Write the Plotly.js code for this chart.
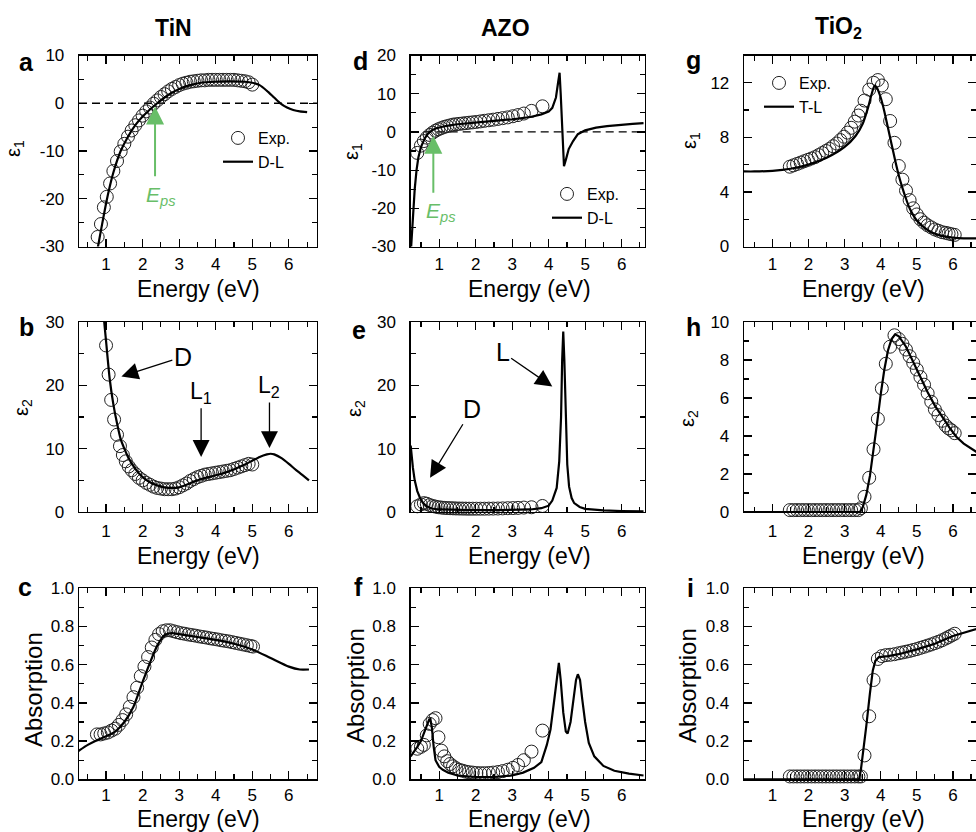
<!DOCTYPE html>
<html><head><meta charset="utf-8">
<script src="https://cdn.plot.ly/plotly-3.0.1.min.js"></script>
<style>html,body{margin:0;padding:0;background:#fff;}#chart{width:976px;height:832px;}</style>
</head><body><div id="chart"></div>
<script>
// ---------- TiN ----------
const tinE1ExpX = [0.77,0.86,0.94,1.02,1.11,1.2,1.3,1.4,1.5,1.6,1.7,1.8,1.9,2.0,2.1,2.2,2.3,2.4,2.5,2.6,2.7,2.8,2.9,3.0,3.1,3.2,3.3,3.4,3.5,3.6,3.7,3.8,3.9,4.0,4.1,4.2,4.3,4.4,4.5,4.6,4.7,4.8,4.9,5.0];
const tinE1ExpY = [-28,-25.3,-21.8,-19.6,-16.8,-14.2,-12.1,-10.1,-8.5,-7.0,-5.7,-4.6,-3.6,-2.6,-1.7,-0.9,-0.1,0.6,1.3,1.9,2.5,3.0,3.4,3.8,4.1,4.3,4.5,4.6,4.7,4.8,4.8,4.9,4.9,4.9,4.9,4.9,4.9,4.9,4.9,4.8,4.7,4.6,4.4,3.9];
const tinE1FitX = [0.74,0.78,0.9,1.0,1.1,1.2,1.4,1.6,1.8,2.0,2.2,2.4,2.6,2.8,3.0,3.3,3.6,4.0,4.4,4.8,5.0,5.2,5.4,5.57,5.75,5.95,6.12,6.3,6.5];
const tinE1FitY = [-32,-30,-25,-21,-17.5,-14.5,-10,-7,-4.6,-2.8,-1.3,0,1.2,2.2,3.0,3.8,4.3,4.5,4.6,4.5,4.3,3.8,2.6,1.4,0.1,-0.9,-1.4,-1.7,-1.85];

const tinE2ExpX = [1.0,1.07,1.14,1.22,1.3,1.38,1.46,1.54,1.62,1.7,1.8,1.9,2.0,2.1,2.2,2.3,2.4,2.5,2.6,2.7,2.8,2.9,3.0,3.1,3.2,3.3,3.4,3.5,3.6,3.7,3.8,3.9,4.0,4.1,4.2,4.3,4.4,4.5,4.6,4.7,4.8,4.9,5.0];
const tinE2ExpY = [26.3,21.7,17.7,14.6,12.2,10.4,9.0,8.0,7.2,6.6,6.0,5.4,5.0,4.6,4.3,4.0,3.8,3.7,3.6,3.6,3.6,3.7,3.9,4.2,4.5,4.9,5.2,5.5,5.7,5.9,6.0,6.1,6.2,6.3,6.4,6.5,6.6,6.8,7.0,7.2,7.4,7.6,7.5];
const tinE2FitX = [0.9,0.95,1.0,1.1,1.2,1.3,1.4,1.5,1.6,1.8,2.0,2.2,2.4,2.6,2.8,3.0,3.2,3.4,3.6,3.8,4.0,4.2,4.4,4.6,4.8,5.0,5.2,5.4,5.5,5.6,5.8,6.0,6.2,6.4,6.55];
const tinE2FitY = [34,30,27,21,17,14,11.5,10,8.7,6.8,5.5,4.7,4.2,3.9,3.8,3.9,4.3,4.8,5.2,5.5,5.8,6.1,6.5,7.0,7.5,8.1,8.7,9.1,9.2,9.1,8.5,7.6,6.6,5.7,5.0];

const tinAbsExpX = [0.75,0.85,0.95,1.05,1.15,1.25,1.35,1.45,1.55,1.65,1.75,1.85,1.95,2.05,2.15,2.25,2.35,2.45,2.55,2.65,2.75,2.85,2.95,3.05,3.15,3.25,3.35,3.45,3.55,3.65,3.75,3.85,3.95,4.05,4.15,4.25,4.35,4.45,4.55,4.65,4.75,4.85,4.95,5.02];
const tinAbsExpY = [0.235,0.235,0.24,0.245,0.255,0.265,0.285,0.31,0.34,0.38,0.43,0.48,0.54,0.59,0.64,0.69,0.73,0.76,0.775,0.78,0.78,0.775,0.77,0.765,0.762,0.758,0.755,0.752,0.748,0.745,0.742,0.738,0.735,0.732,0.728,0.725,0.722,0.718,0.714,0.71,0.706,0.702,0.698,0.695];
const tinAbsFitX = [0.22,0.5,0.75,1.0,1.25,1.5,1.75,2.0,2.2,2.4,2.6,2.8,3.0,3.5,4.0,4.5,5.0,5.5,6.0,6.3,6.55];
const tinAbsFitY = [0.145,0.18,0.205,0.225,0.25,0.3,0.38,0.51,0.61,0.7,0.755,0.765,0.76,0.745,0.73,0.71,0.68,0.635,0.59,0.575,0.575];

// ---------- AZO ----------
const azoExpX = [0.4,0.5,0.58,0.66,0.74,0.82,0.9,0.98,1.06,1.14,1.22,1.3,1.38,1.46,1.55,1.64,1.73,1.82,1.92,2.02,2.13,2.24,2.36,2.48,2.61,2.74,2.88,3.02,3.16,3.32,3.53,3.83];
const azoE1ExpY = [-5.5,-3.6,-2.4,-1.5,-0.8,-0.2,0.3,0.7,1.0,1.3,1.5,1.7,1.9,2.0,2.1,2.2,2.3,2.4,2.5,2.6,2.75,2.9,3.05,3.2,3.4,3.6,3.8,4.1,4.4,4.8,5.5,6.7];
const azoE2ExpY = [0.9,1.2,1.4,1.3,1.1,0.95,0.85,0.75,0.7,0.65,0.62,0.6,0.58,0.56,0.55,0.54,0.53,0.52,0.52,0.52,0.52,0.52,0.53,0.54,0.55,0.57,0.6,0.62,0.65,0.7,0.75,0.95];
const azoAbsExpY = [0.16,0.17,0.18,0.23,0.29,0.31,0.32,0.22,0.15,0.12,0.095,0.08,0.068,0.058,0.05,0.045,0.04,0.037,0.035,0.033,0.032,0.032,0.033,0.035,0.038,0.043,0.05,0.06,0.075,0.1,0.145,0.255];

const azoE1FitX = [0.22,0.28,0.33,0.38,0.43,0.5,0.56,0.61,0.7,0.8,0.9,1.0,1.2,1.5,2.0,2.5,3.0,3.5,3.8,4.0,4.1,4.2,4.26,4.3,4.33,4.37,4.42,4.48,4.55,4.67,4.8,5.0,5.3,5.6,6.0,6.3,6.6];
const azoE1FitY = [-32,-21,-15,-10,-6.7,-4,-2.6,-1.6,-0.4,0.4,0.9,1.2,1.6,2.0,2.5,2.9,3.3,3.9,4.6,5.3,6.3,9.0,13,15.5,10,0,-9,-7,-4.5,-2.4,-0.6,0.4,1.1,1.5,1.9,2.1,2.3];

const azoE2FitX = [0.22,0.25,0.28,0.33,0.4,0.47,0.55,0.65,0.8,1.0,1.5,2.0,2.5,3.0,3.5,3.8,4.0,4.1,4.22,4.29,4.34,4.37,4.4,4.43,4.47,4.51,4.56,4.63,4.7,4.85,5.0,5.5,6.0,6.6];
const azoE2FitY = [10.5,8.5,7.0,5.0,3.3,2.3,1.5,0.9,0.55,0.4,0.3,0.3,0.3,0.35,0.4,0.6,1.0,1.8,3.8,8,15,24,28.5,24,14,7.5,4.0,2.2,1.4,0.8,0.5,0.25,0.15,0.1];

const azoAbsFitX = [0.22,0.3,0.4,0.5,0.58,0.65,0.72,0.76,0.8,0.85,0.9,1.0,1.1,1.25,1.5,2.0,2.5,3.0,3.3,3.6,3.8,3.95,4.05,4.15,4.22,4.28,4.33,4.4,4.47,4.52,4.6,4.68,4.75,4.8,4.86,4.92,5.0,5.1,5.25,5.5,5.8,6.2,6.6];
const azoAbsFitY = [0.12,0.14,0.17,0.2,0.24,0.28,0.31,0.315,0.27,0.17,0.1,0.065,0.05,0.035,0.02,0.012,0.012,0.02,0.035,0.06,0.09,0.18,0.26,0.41,0.53,0.61,0.52,0.35,0.25,0.24,0.3,0.42,0.52,0.55,0.52,0.42,0.3,0.19,0.12,0.07,0.045,0.03,0.02];

// ---------- TiO2 ----------
const tioExpX = [1.48,1.58,1.68,1.78,1.88,1.98,2.08,2.18,2.28,2.38,2.48,2.58,2.68,2.78,2.88,2.98,3.08,3.18,3.28,3.38,3.45,3.55,3.68,3.8,3.92,4.03,4.14,4.26,4.38,4.5,4.6,4.7,4.8,4.9,5.0,5.1,5.2,5.3,5.4,5.5,5.6,5.7,5.8,5.88,5.96,6.05];
const tioE1ExpY = [5.85,5.95,6.05,6.15,6.25,6.35,6.45,6.55,6.7,6.85,7.0,7.15,7.35,7.55,7.8,8.05,8.35,8.7,9.15,9.6,9.95,10.7,11.5,12.0,12.2,11.8,10.8,9.2,7.6,5.9,4.9,4.1,3.4,2.8,2.35,2.0,1.75,1.55,1.4,1.25,1.15,1.05,1.0,0.95,0.9,0.85];
const tioE2ExpY = [0.1,0.1,0.1,0.1,0.1,0.1,0.1,0.1,0.1,0.1,0.1,0.1,0.1,0.1,0.1,0.1,0.1,0.1,0.1,0.1,0.2,0.8,1.8,3.3,4.9,6.5,7.8,8.7,9.3,9.1,8.85,8.55,8.2,7.85,7.5,7.1,6.7,6.25,5.8,5.4,5.1,4.8,4.55,4.4,4.3,4.15];
const tioAbsExpY = [0.015,0.015,0.015,0.015,0.015,0.015,0.015,0.015,0.015,0.015,0.015,0.015,0.015,0.015,0.015,0.015,0.015,0.015,0.015,0.015,0.015,0.125,0.33,0.52,0.63,0.645,0.65,0.652,0.655,0.66,0.664,0.668,0.672,0.677,0.682,0.688,0.694,0.7,0.706,0.713,0.72,0.728,0.737,0.745,0.753,0.762];

const tioE1FitX = [0.21,0.5,1.0,1.5,2.0,2.5,3.0,3.3,3.5,3.65,3.75,3.83,3.9,4.0,4.1,4.2,4.3,4.4,4.5,4.6,4.7,4.8,4.9,5.0,5.2,5.4,5.6,5.8,6.0,6.3,6.7];
const tioE1FitY = [5.5,5.5,5.55,5.7,6.0,6.5,7.3,8.1,9.0,10.2,11.2,11.8,11.6,10.9,9.9,8.7,7.5,6.3,5.2,4.3,3.5,2.8,2.3,1.9,1.4,1.05,0.85,0.72,0.65,0.6,0.6];
const tioE2FitX = [0.21,1.0,2.0,3.0,3.42,3.5,3.6,3.7,3.8,3.9,4.0,4.1,4.2,4.3,4.4,4.5,4.7,4.9,5.1,5.3,5.5,5.7,5.9,6.1,6.3,6.7];
const tioE2FitY = [0,0,0,0,0,0.25,0.9,1.9,3.2,4.7,6.2,7.5,8.5,9.1,9.35,9.25,8.7,7.9,7.1,6.3,5.6,5.0,4.45,3.95,3.6,3.1];
const tioAbsFitX = [0.21,1.0,2.0,3.0,3.4,3.45,3.5,3.6,3.7,3.78,3.85,3.95,4.2,4.5,5.0,5.5,6.0,6.7];
const tioAbsFitY = [0,0,0,0,0,0.05,0.12,0.28,0.45,0.57,0.62,0.64,0.645,0.655,0.68,0.71,0.75,0.79];

// ---------- labels ----------
const materials = ['TiN','AZO','TiO<sub>2</sub>'];
const panelLetters = [['a','d','g'],['b','e','h'],['c','f','i']];
const fitNames = ['D-L','D-L','T-L'];
const yTitles = ['ε<sub>1</sub>','ε<sub>2</sub>','Absorption'];
const xTitle = 'Energy (eV)';
const e1TickVals = [[-30,-20,-10,0,10],[-30,-20,-10,0,10,20]];
const e1TickText = [['-30','-20','-10','0','10'],['-30','-20','-10','0','10','20']];

// ---------- layout helpers ----------
const W = 976, H = 832;
const px = v => v / W, py = v => 1 - v / H;
const FONT = 'Liberation Sans, Arial, sans-serif';
const colPx = [[79,317],[410.7,645],[744,976]];
const rowPx = [[55.5,246.5],[322,512],[588.3,779.3]];
const xRanges = [[0.26,6.77],[0.22,6.64],[0.21,6.64]];
const xLabStand = [2,3,0];

const layout = {
  width: W, height: H, margin: {l:0,r:0,t:0,b:0},
  paper_bgcolor: '#fff', plot_bgcolor: '#fff',
  font: {family: FONT, color: '#000'},
  showlegend: true, hovermode: false,
  annotations: [], shapes: []
};
const axId = (letter, n) => letter + (n === 1 ? '' : n);

function axisBase() {
  return {showline:true, linecolor:'#000', linewidth:1.3, mirror:'allticks',
    ticks:'inside', ticklen:8, tickwidth:1.2, tickcolor:'#000',
    showgrid:false, zeroline:false,
    tickfont:{family:FONT, size:17, color:'#000'}};
}

const yCfg = [
  [{range:[-30,10], tickmode:'array', tickvals:e1TickVals[0], ticktext:e1TickText[0], minor:5},
   {range:[-30,20], tickmode:'array', tickvals:e1TickVals[1], ticktext:e1TickText[1], minor:5},
   {range:[0,14], tickmode:'linear', tick0:0, dtick:4, minor:2}],
  [{range:[0,30], tickmode:'linear', tick0:0, dtick:10, minor:5},
   {range:[0,30], tickmode:'linear', tick0:0, dtick:10, minor:5},
   {range:[0,10], tickmode:'linear', tick0:0, dtick:2, minor:1}],
  [{range:[0,1], tickmode:'linear', tick0:0, dtick:0.2, minor:0.1, tickformat:'.1f'},
   {range:[0,1], tickmode:'linear', tick0:0, dtick:0.2, minor:0.1, tickformat:'.1f'},
   {range:[0,1], tickmode:'linear', tick0:0, dtick:0.2, minor:0.1, tickformat:'.1f'}]
];
const yLabStand = [[10,10,10],[10,10,10],[0,10,10]];

for (let r = 0; r < 3; r++) {
  for (let c = 0; c < 3; c++) {
    const n = r*3 + c + 1;
    const xa = axisBase();
    Object.assign(xa, {domain:[px(colPx[c][0]), px(colPx[c][1])], range:xRanges[c],
      anchor:axId('y', n), tickmode:'linear', tick0:0, dtick:1, ticklabelstandoff:xLabStand[r],
      minor:{ticks:'inside', ticklen:5, tickwidth:1.2, tickcolor:'#000', tickmode:'linear', tick0:0, dtick:0.5, showgrid:false}});
    const ya = axisBase();
    const yc = yCfg[r][c];
    Object.assign(ya, {domain:[py(rowPx[r][1]), py(rowPx[r][0])], range:yc.range, anchor:axId('x', n),
      tickmode:yc.tickmode, ticklabelstandoff:yLabStand[r][c],
      minor:{ticks:'inside', ticklen:5, tickwidth:1.2, tickcolor:'#000', tickmode:'linear', tick0:0, dtick:yc.minor, showgrid:false}});
    if (yc.tickmode === 'array') { ya.tickvals = yc.tickvals; ya.ticktext = yc.ticktext; }
    else { ya.tick0 = yc.tick0; ya.dtick = yc.dtick; }
    if (yc.tickformat) ya.tickformat = yc.tickformat;
    layout['xaxis' + (n === 1 ? '' : n)] = xa;
    layout['yaxis' + (n === 1 ? '' : n)] = ya;
  }
}

// ---------- traces ----------
const traces = [];
function addPanel(n, ex, ey, fx, fy, legendId, fitName, shape) {
  const xa = axId('x', n), ya = axId('y', n);
  traces.push({type:'scatter', mode:'markers', x:ex, y:ey, xaxis:xa, yaxis:ya, name:'Exp.',
    marker:{symbol:'circle-open', size:13, color:'#222', line:{width:1, color:'#222'}},
    cliponaxis:false, showlegend:!!legendId, legend:legendId || 'legend'});
  traces.push({type:'scatter', mode:'lines', x:fx, y:fy, xaxis:xa, yaxis:ya, name:fitName || 'fit',
    line:{color:'#000', width:2.2, shape:shape, smoothing:0.6},
    showlegend:!!legendId, legend:legendId || 'legend'});
}
addPanel(1, tinE1ExpX, tinE1ExpY, tinE1FitX, tinE1FitY, 'legend', fitNames[0], 'spline');
addPanel(2, azoExpX, azoE1ExpY, azoE1FitX, azoE1FitY, 'legend2', fitNames[1], 'linear');
addPanel(3, tioExpX, tioE1ExpY, tioE1FitX, tioE1FitY, 'legend3', fitNames[2], 'spline');
addPanel(4, tinE2ExpX, tinE2ExpY, tinE2FitX, tinE2FitY, null, fitNames[0], 'spline');
addPanel(5, azoExpX, azoE2ExpY, azoE2FitX, azoE2FitY, null, fitNames[1], 'linear');
addPanel(6, tioExpX, tioE2ExpY, tioE2FitX, tioE2FitY, null, fitNames[2], 'linear');
addPanel(7, tinAbsExpX, tinAbsExpY, tinAbsFitX, tinAbsFitY, null, fitNames[0], 'spline');
addPanel(8, azoExpX, azoAbsExpY, azoAbsFitX, azoAbsFitY, null, fitNames[1], 'linear');
addPanel(9, tioExpX, tioAbsExpY, tioAbsFitX, tioAbsFitY, null, fitNames[2], 'linear');

// ---------- legends ----------
function legendAt(left, top) {
  return {x:px(left), y:py(top), xanchor:'left', yanchor:'top', bgcolor:'rgba(0,0,0,0)',
    borderwidth:0, font:{family:FONT, size:16, color:'#000'}, itemwidth:30, tracegroupgap:0};
}
layout.legend = legendAt(218, 121);
layout.legend2 = legendAt(547, 177);
layout.legend3 = legendAt(759, 66);

// ---------- dashed zero lines ----------
[['x','y'],['x2','y2']].forEach(([xr, yr]) => {
  layout.shapes.push({type:'line', xref:xr + ' domain', yref:yr, x0:0, x1:1, y0:0, y1:0,
    layer:'below', line:{color:'#000', width:1.3, dash:'8px,5px'}});
});

// ---------- text annotations ----------
const A = layout.annotations;
function txt(x, y, text, size, opts) {
  A.push(Object.assign({xref:'paper', yref:'paper', x:px(x), y:py(y), text:text, showarrow:false,
    xanchor:'center', yanchor:'middle', font:{family:FONT, size:size, color:'#000'}}, opts || {}));
}
const titleX = [173, 505, 838];
materials.forEach((m, i) => txt(titleX[i], 28, '<b>' + m + '</b>', 23));
const letterPos = [[[26,62],[360,61],[693,60]],[[26,327],[359,330],[693,327]],[[25,587],[358,587],[690,588]]];
for (let r = 0; r < 3; r++) for (let c = 0; c < 3; c++)
  txt(letterPos[r][c][0], letterPos[r][c][1], '<b>' + panelLetters[r][c] + '</b>', 25);
const yTitlePos = [[[15,149],[352,152],[690,141]],[[22,408],[355,409],[688,419]],[[33,690],[355,686],[687,686]]];
const yTitleSize = [20, 20, 24];
for (let r = 0; r < 3; r++) for (let c = 0; c < 3; c++)
  txt(yTitlePos[r][c][0], yTitlePos[r][c][1], yTitles[r], yTitleSize[r], {textangle:-90});
const xTitleX = [198, 529, 863];
const xTitleY = [289, 556, 819];
for (let r = 0; r < 3; r++) for (let c = 0; c < 3; c++)
  txt(xTitleX[c], xTitleY[r], xTitle, 23);

// ---------- arrows ----------
const GREEN = 'rgb(104,190,104)';
function arrow(n, x, y, ax, ay, text, color, size, extra) {
  const xr = axId('x', n), yr = axId('y', n);
  A.push(Object.assign({xref:xr, yref:yr, axref:xr, ayref:yr, x:x, y:y, ax:ax, ay:ay, text:text,
    showarrow:true, arrowhead:2, arrowsize:2.6, arrowwidth:1.3, arrowcolor:color,
    font:{family:FONT, size:size, color:color}}, extra || {}));
}
arrow(1, 2.34, -0.7, 2.34, -15.6, '', GREEN, 20, {arrowwidth:2, arrowsize:1.8});
A.push({xref:'x', yref:'y', x:2.5, y:-19.5, text:'<i>E<sub>ps</sub></i>', showarrow:false,
  font:{family:FONT, size:21, color:GREEN}});
arrow(2, 0.84, -1.0, 0.84, -16.3, '', GREEN, 20, {arrowwidth:2, arrowsize:1.8});
A.push({xref:'x2', yref:'y2', x:1.05, y:-21, text:'<i>E<sub>ps</sub></i>', showarrow:false,
  font:{family:FONT, size:21, color:GREEN}});
arrow(4, 1.42, 21.4, 3.1, 24.5, 'D', '#000', 25);
arrow(4, 3.6, 8.7, 3.6, 18.9, 'L<sub>1</sub>', '#000', 23);
arrow(4, 5.47, 10.1, 5.47, 19.8, 'L<sub>2</sub>', '#000', 23);
arrow(5, 4.1, 19.8, 2.74, 25.2, 'L', '#000', 25);
arrow(5, 0.75, 5.4, 1.91, 16.3, 'D', '#000', 25);

Plotly.newPlot('chart', traces, layout, {staticPlot:true, displayModeBar:false});
</script></body></html>
